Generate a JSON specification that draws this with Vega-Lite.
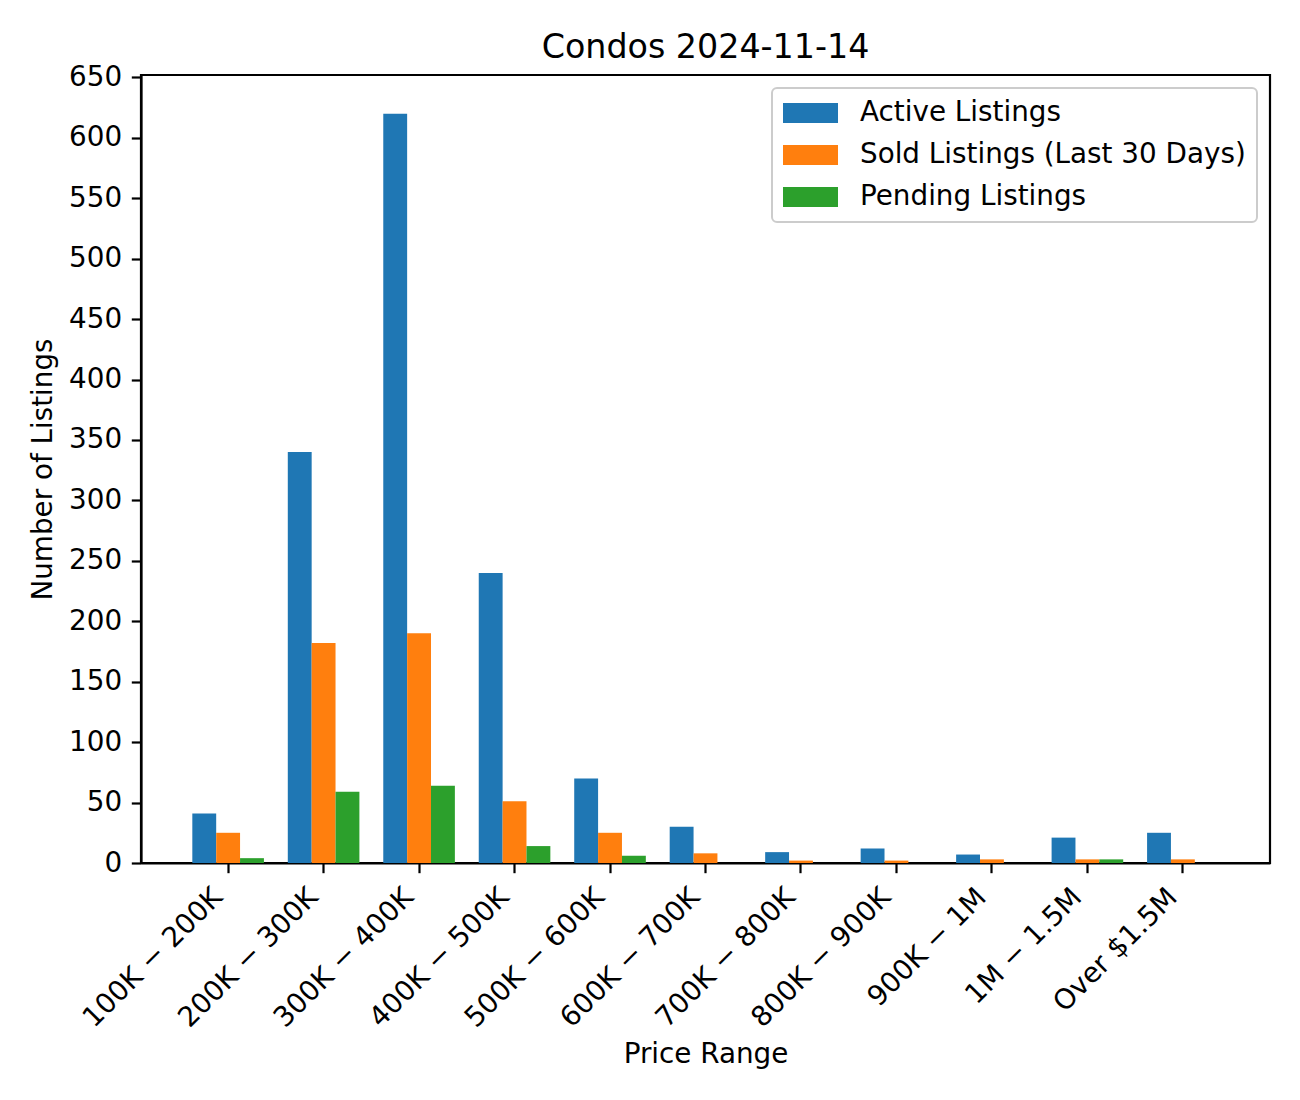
{
  "$schema": "https://vega.github.io/schema/vega-lite/v6.json",
  "autosize": {"type": "none"},
  "width": 1129,
  "height": 788,
  "padding": {"left": 141, "top": 75, "right": 30, "bottom": 237},
  "background": "white",
  "config": {
    "font": "DejaVu Sans",
    "view": {"stroke": "black", "strokeWidth": 2.2},
    "axis": {
      "grid": false,
      "domainColor": "black",
      "domainWidth": 2.2,
      "tickColor": "black",
      "tickWidth": 2.2,
      "tickSize": 9.7,
      "labelPadding": 9.7,
      "labelFont": "DejaVu Sans",
      "labelFontSize": 27.8,
      "labelColor": "black",
      "titleFont": "DejaVu Sans",
      "titleFontSize": 27.8,
      "titleFontWeight": "normal",
      "titleColor": "black"
    }
  },
  "title": {
    "text": "Condos 2024-11-14",
    "font": "DejaVu Sans",
    "fontSize": 33.3,
    "fontWeight": "normal",
    "color": "black",
    "anchor": "middle",
    "offset": -2
  },
  "data": {
    "values": [
      {"range": "100K − 200K", "series": "Active Listings", "count": 41},
      {"range": "100K − 200K", "series": "Sold Listings (Last 30 Days)", "count": 25},
      {"range": "100K − 200K", "series": "Pending Listings", "count": 4},
      {"range": "200K − 300K", "series": "Active Listings", "count": 340},
      {"range": "200K − 300K", "series": "Sold Listings (Last 30 Days)", "count": 182},
      {"range": "200K − 300K", "series": "Pending Listings", "count": 59},
      {"range": "300K − 400K", "series": "Active Listings", "count": 620},
      {"range": "300K − 400K", "series": "Sold Listings (Last 30 Days)", "count": 190},
      {"range": "300K − 400K", "series": "Pending Listings", "count": 64},
      {"range": "400K − 500K", "series": "Active Listings", "count": 240},
      {"range": "400K − 500K", "series": "Sold Listings (Last 30 Days)", "count": 51},
      {"range": "400K − 500K", "series": "Pending Listings", "count": 14},
      {"range": "500K − 600K", "series": "Active Listings", "count": 70},
      {"range": "500K − 600K", "series": "Sold Listings (Last 30 Days)", "count": 25},
      {"range": "500K − 600K", "series": "Pending Listings", "count": 6},
      {"range": "600K − 700K", "series": "Active Listings", "count": 30},
      {"range": "600K − 700K", "series": "Sold Listings (Last 30 Days)", "count": 8},
      {"range": "600K − 700K", "series": "Pending Listings", "count": 0},
      {"range": "700K − 800K", "series": "Active Listings", "count": 9},
      {"range": "700K − 800K", "series": "Sold Listings (Last 30 Days)", "count": 2},
      {"range": "700K − 800K", "series": "Pending Listings", "count": 0},
      {"range": "800K − 900K", "series": "Active Listings", "count": 12},
      {"range": "800K − 900K", "series": "Sold Listings (Last 30 Days)", "count": 2},
      {"range": "800K − 900K", "series": "Pending Listings", "count": 0},
      {"range": "900K − 1M", "series": "Active Listings", "count": 7},
      {"range": "900K − 1M", "series": "Sold Listings (Last 30 Days)", "count": 3},
      {"range": "900K − 1M", "series": "Pending Listings", "count": 0},
      {"range": "1M − 1.5M", "series": "Active Listings", "count": 21},
      {"range": "1M − 1.5M", "series": "Sold Listings (Last 30 Days)", "count": 3},
      {"range": "1M − 1.5M", "series": "Pending Listings", "count": 3},
      {"range": "Over $1.5M", "series": "Active Listings", "count": 25},
      {"range": "Over $1.5M", "series": "Sold Listings (Last 30 Days)", "count": 3},
      {"range": "Over $1.5M", "series": "Pending Listings", "count": 0}
    ]
  },
  "mark": {"type": "bar"},
  "encoding": {
    "x": {
      "field": "range",
      "type": "nominal",
      "sort": null,
      "scale": {"paddingInner": 0.25, "paddingOuter": 0.5375},
      "axis": {
        "title": "Price Range",
        "labelAngle": -45,
        "labelAlign": "right",
        "labelBaseline": "bottom",
        "labelPadding": 30,
        "labelLimit": 400,
        "titlePadding": 8
      }
    },
    "xOffset": {
      "field": "series",
      "type": "nominal",
      "sort": ["Active Listings", "Sold Listings (Last 30 Days)", "Pending Listings"],
      "scale": {"paddingInner": 0, "paddingOuter": 0}
    },
    "y": {
      "field": "count",
      "type": "quantitative",
      "scale": {"domain": [0, 652], "nice": false, "zero": true},
      "axis": {
        "title": "Number of Listings",
        "values": [0, 50, 100, 150, 200, 250, 300, 350, 400, 450, 500, 550, 600, 650],
        "titlePadding": 11
      }
    },
    "color": {
      "field": "series",
      "type": "nominal",
      "sort": ["Active Listings", "Sold Listings (Last 30 Days)", "Pending Listings"],
      "scale": {
        "domain": ["Active Listings", "Sold Listings (Last 30 Days)", "Pending Listings"],
        "range": ["#1f77b4", "#ff7f0e", "#2ca02c"]
      },
      "legend": {
        "title": null,
        "orient": "top-right",
        "offset": 13,
        "padding": 11,
        "fillColor": "white",
        "strokeColor": "#cccccc",
        "cornerRadius": 5,
        "labelFont": "DejaVu Sans",
        "labelFontSize": 27.8,
        "labelColor": "black",
        "labelLimit": 600,
        "labelOffset": 49,
        "symbolType": "M-1,-0.714L2.929,-0.714L2.929,0.714L-1,0.714Z",
        "symbolSize": 784,
        "symbolStrokeWidth": 0,
        "symbolOpacity": 1,
        "rowPadding": 14,
        "encode": {"legend": {"update": {"strokeWidth": {"value": 2}}}}
      }
    }
  }
}
